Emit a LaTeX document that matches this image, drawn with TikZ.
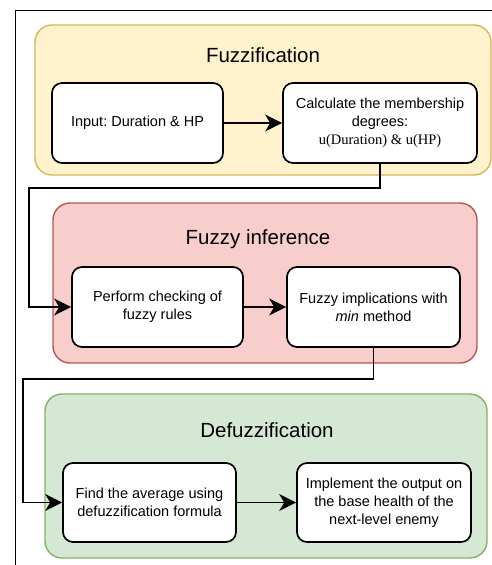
\documentclass[tikz,border=0pt]{standalone}
\usepackage{fontspec}
\setmainfont{Liberation Sans}
\newfontfamily\serifalt{Liberation Serif}
\usetikzlibrary{arrows.meta}
\frenchspacing
\definecolor{yfill}{HTML}{FFF2CC}
\definecolor{ydraw}{HTML}{D6B656}
\definecolor{rfill}{HTML}{F8CECC}
\definecolor{rdraw}{HTML}{B85450}
\definecolor{gfill}{HTML}{D5E8D4}
\definecolor{gdraw}{HTML}{82B366}
\tikzset{
  grp/.style={line width=1.4pt, rounded corners=17pt},
  stepbox/.style={draw=black, fill=white, line width=1.7pt, rounded corners=10pt,
    align=center, inner sep=2pt, font=\fontsize{14.5}{17.8}\selectfont},
  grptitle/.style={font=\fontsize{20.5}{24}\selectfont},
  arr/.style={line width=1.6pt, -{Stealth[length=17pt,width=17pt,inset=5pt]}},
}
\begin{document}
\begin{tikzpicture}[x=1pt,y=-1pt]
\useasboundingbox (0,0) rectangle (492,565);
% outer frame
\draw[line width=1pt] (493,10.5) -- (15,10.5) -- (15,566);
% groups
\draw[grp, draw=ydraw, fill=yfill] (35,25) rectangle (491,175);
\draw[grp, draw=rdraw, fill=rfill] (53,203) rectangle (477,363);
\draw[grp, draw=gdraw, fill=gfill] (45,394) rectangle (487,558);
% titles
\node[grptitle] (t1) at (263,55) {Fuzzification};
\node[grptitle] (t2) at (258,239) {Fuzzy inference};
\node[grptitle] (t3) at (267,430) {Defuzzification};
% boxes
\node[stepbox, minimum width=171pt, minimum height=80pt] (b1) at (137.5,123) {Input: Duration \& HP};
\node[stepbox, minimum width=194pt, minimum height=80pt] (b2) at (380,123) {Calculate the membership\\degrees:\\{\serifalt u(Duration) \& u(HP)}};
\node[stepbox, minimum width=171pt, minimum height=80pt] (b3) at (157.5,307) {Perform checking of\\fuzzy rules};
\node[stepbox, minimum width=173pt, minimum height=80pt] (b4) at (373.5,307) {Fuzzy implications with\\\textit{min} method};
\node[stepbox, minimum width=173pt, minimum height=79pt] (b5) at (149.5,502.5) {Find the average using\\defuzzification formula};
\node[stepbox, minimum width=174pt, minimum height=79pt] (b6) at (384,502.5) {Implement the output on\\the base health of the\\next-level enemy};
% connector corners
\coordinate (c1) at (29,188);
\coordinate (c2) at (23,379);
% connectors
\draw[arr] (b1.east) -- (b2.west);
\draw[arr] (b2.south) |- (c1) |- (b3.west);
\draw[arr] (b3.east) -- (b4.west);
\draw[arr] (b4.south) |- (c2) |- (b5.west);
\draw[arr] (b5.east) -- (b6.west);
\end{tikzpicture}
\end{document}
